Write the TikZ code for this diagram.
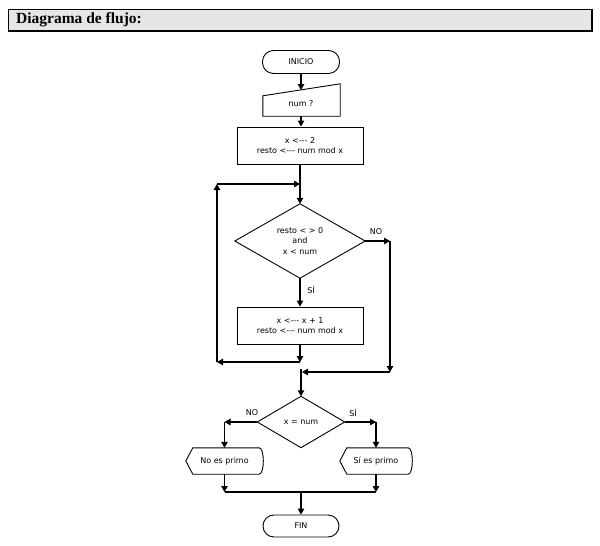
\documentclass[tikz,border=0pt]{standalone}
\usepackage{fontspec}
\setmainfont{Liberation Serif}
\newfontfamily\dvs{DejaVu Sans}
\usetikzlibrary{arrows.meta,calc}
\tikzset{
  ln/.style={line width=1.1pt},
  arr/.style={ln,-{Triangle[length=6pt,width=6.5pt]}},
  txt/.style={font=\dvs\fontsize{8}{10.5}\selectfont,align=center,inner sep=0pt},
  frame/.style={draw,line width=0.9pt},
  term/.style={txt,frame,rounded corners=11pt,minimum width=77pt,minimum height=23pt},
  proc/.style={txt,frame,minimum width=126pt,minimum height=37pt},
  ghost/.style={txt,minimum width=#1},
  lbl/.style={txt}
}
\begin{document}
\begin{tikzpicture}[x=1pt,y=-1pt]
\useasboundingbox (0,0) rectangle (600,546);
% title bar
\fill[fill={rgb,255:red,230;green,230;blue,230}] (8,9) rectangle (591,30);
\draw[line width=0.9pt] (8,30) -- (8,9) -- (591,9);
\draw[line width=2pt] (8,30.5) -- (592,30.5) -- (592,9);
\node[anchor=west,font=\bfseries\fontsize{15.5}{18}\selectfont,inner sep=0pt] (title) at (16,20) {Diagrama de flujo:};
% nodes
\node[term] (inicio) at (301,62) {INICIO};
\node[ghost=77pt,minimum height=32pt] (num) at (301.5,100) {};
\draw[line width=0.9pt] (num.south west) -- (num.south east) -- (num.north east) -- ([yshift=-12pt]num.north west) -- cycle;
\node[lbl] (numtxt) at (301,104) {num ?};
\coordinate (numtop) at (301,90);
\node[proc] (b1) at (300,145.5) {x <--- 2\\resto <--- num mod x};
\node[ghost=130pt,minimum height=74pt] (d1) at (300,241) {resto < > 0\\and\\x < num};
\draw[line width=0.9pt] (d1.north) -- (d1.east) -- (d1.south) -- (d1.west) -- cycle;
\node[proc] (b2) at (300,325.5) {x <--- x + 1\\resto <--- num mod x};
\node[ghost=87pt,minimum height=51pt] (d2) at (301,422) {x = num};
\draw[line width=0.9pt] (d2.north) -- (d2.east) -- (d2.south) -- (d2.west) -- cycle;
\node[ghost=77pt,minimum height=26pt] (np) at (224.5,461) {No es primo};
\draw[line width=0.9pt] (np.west) -- ([xshift=7pt]np.north west) -- ([xshift=-4pt]np.north east)
   .. controls ([xshift=1.5pt]np.north east) and ([xshift=1.5pt]np.south east) .. ([xshift=-4pt]np.south east)
   -- ([xshift=7pt]np.south west) -- cycle;
\node[ghost=72pt,minimum height=26pt] (sp) at (376,461) {Sí es primo};
\draw[line width=0.9pt] (sp.west) -- ([xshift=7pt]sp.north west) -- ([xshift=-4pt]sp.north east)
   .. controls ([xshift=1.5pt]sp.north east) and ([xshift=1.5pt]sp.south east) .. ([xshift=-4pt]sp.south east)
   -- ([xshift=7pt]sp.south west) -- cycle;
\node[term,minimum width=76pt,minimum height=22pt] (fin) at (301,526) {FIN};
% labels
\node[lbl] (no1) at (376,232) {NO};
\node[lbl] (si1) at (311,290) {SÍ};
\node[lbl] (no2) at (252,413) {NO};
\node[lbl] (si2) at (353,413) {SÍ};
% coordinates
\coordinate (mt) at (300,184);
\coordinate (lt) at (217,184);
\coordinate (lb) at (217,362);
\coordinate (mb) at (300,362);
\coordinate (nr) at (390,241);
\coordinate (nb) at (390,372);
\coordinate (nl) at (302,372);
\coordinate (m2) at (301,369);
\coordinate (dl) at (224.5,422);
\coordinate (dr) at (376,422);
\coordinate (jl) at (224.5,492);
\coordinate (jr) at (376,492);
\coordinate (jm) at (301,492);
% connectors
\draw[arr] (inicio.south) -- (numtop);
\draw[arr] (num.south -| numtop) -- (b1.north -| numtop);
\draw[arr] (b1.south) -- (d1.north);
\draw[arr] (d1.south) -- (b2.north);
\draw[arr] (b2.south) -- (mb);
\draw[arr] (mb) -- (lb);
\draw[arr] (lb) -- (lt);
\draw[arr] (lt) -- (mt);
\draw[arr] (d1.east) -- (nr);
\draw[arr] (nr) -- (nb);
\draw[arr] (nb) -- (nl);
\draw[arr] (m2) -- (d2.north);
\draw[arr] (d2.west) -- (dl);
\draw[arr] (dl) -- (np.north);
\draw[arr] (d2.east) -- (dr);
\draw[arr] (dr) -- (sp.north);
\draw[arr] (np.south) -- (jl);
\draw[arr] (sp.south) -- (jr);
\draw[ln] (jl) -- (jr);
\draw[arr] (jm) -- (fin.north);
\end{tikzpicture}
\end{document}
